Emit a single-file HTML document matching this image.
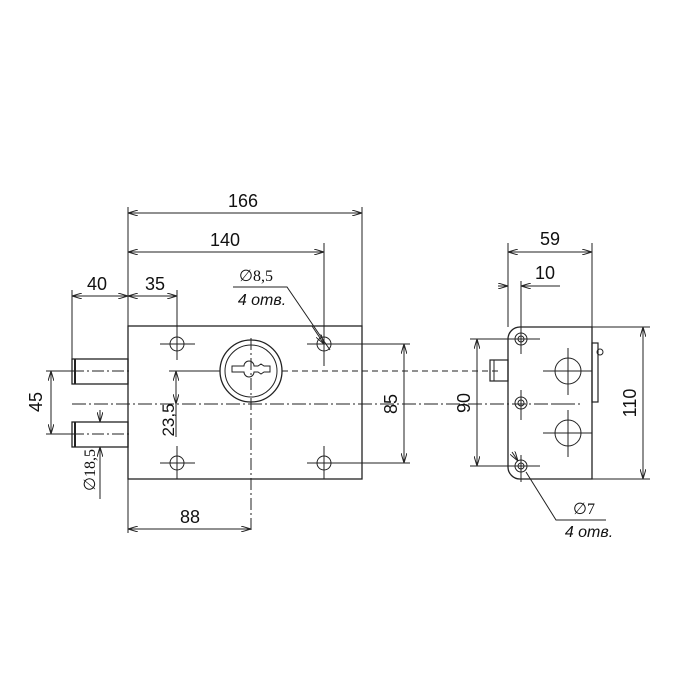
<!DOCTYPE html>
<html><head><meta charset="utf-8"><style>
html,body{margin:0;padding:0;background:#fff}
svg{display:block}
text{font-family:"Liberation Sans",sans-serif;fill:#111}
</style></head><body>
<svg width="700" height="700" viewBox="0 0 700 700" xmlns="http://www.w3.org/2000/svg">
<defs>
<marker id="a" viewBox="0 0 10 6" refX="10" refY="3" markerWidth="10" markerHeight="6" orient="auto-start-reverse" markerUnits="userSpaceOnUse">
<path d="M0,0 L10,3 L0,6" fill="none" stroke="#222" stroke-width="1"/>
</marker>
</defs>
<g stroke="#222" stroke-width="1" fill="none">
<rect x="128" y="326" width="234" height="153" stroke-width="1.3"/>
<rect x="72" y="359" width="56" height="25" stroke-width="1.3"/>
<rect x="72" y="422" width="56" height="25" stroke-width="1.3"/>
<line x1="75" y1="359" x2="75" y2="384" stroke-width="2"/>
<line x1="75" y1="422" x2="75" y2="447" stroke-width="2"/>
<line x1="72" y1="371" x2="130" y2="371" stroke-dasharray="12,3,2,3"/>
<line x1="72" y1="434" x2="130" y2="434" stroke-dasharray="12,3,2,3"/>
<line x1="72" y1="404" x2="580" y2="404" stroke-dasharray="14,3,2,3"/>
<line x1="169" y1="371" x2="220" y2="371"/>
<line x1="282" y1="371" x2="500" y2="371" stroke-dasharray="6,4"/>
<line x1="251" y1="338" x2="251" y2="533" stroke-dasharray="12,3,2,3"/>
<circle cx="251" cy="371" r="31" stroke-width="1.3"/>
<circle cx="251" cy="371" r="26"/>
<path d="M232,366 h12 a5,5 0 0 1 10,0 h4 l3,-2 l3,2 h6 v6 h-6 l-3,2 l-3,-2 h-4 a5,5 0 0 1 -10,0 h-12 z"/>
<g>
<circle cx="177" cy="344" r="7"/><line x1="160" y1="344" x2="195" y2="344"/><line x1="177" y1="327" x2="177" y2="360"/>
<circle cx="324" cy="344" r="7"/><line x1="307" y1="344" x2="410" y2="344"/><line x1="324" y1="243" x2="324" y2="366"/>
<circle cx="177" cy="463" r="7"/><line x1="160" y1="463" x2="195" y2="463"/><line x1="177" y1="446" x2="177" y2="479"/>
<circle cx="324" cy="463" r="7"/><line x1="307" y1="463" x2="410" y2="463"/><line x1="324" y1="446" x2="324" y2="479"/>
</g>
<line x1="128" y1="207" x2="128" y2="533"/>
<line x1="362" y1="207" x2="362" y2="326"/>
<line x1="72" y1="290" x2="72" y2="359"/>
<line x1="177" y1="290" x2="177" y2="327"/>
<line x1="46" y1="371" x2="72" y2="371"/>
<line x1="46" y1="434" x2="72" y2="434"/>
<line x1="128" y1="213" x2="362" y2="213" marker-start="url(#a)" marker-end="url(#a)"/>
<line x1="128" y1="252" x2="324" y2="252" marker-start="url(#a)" marker-end="url(#a)"/>
<line x1="72" y1="296" x2="128" y2="296" marker-start="url(#a)" marker-end="url(#a)"/>
<line x1="128" y1="296" x2="177" y2="296" marker-start="url(#a)" marker-end="url(#a)"/>
<line x1="128" y1="529" x2="251" y2="529" marker-start="url(#a)" marker-end="url(#a)"/>
<line x1="51" y1="371" x2="51" y2="434" marker-start="url(#a)" marker-end="url(#a)"/>
<line x1="176" y1="371" x2="176" y2="404" marker-start="url(#a)" marker-end="url(#a)"/>
<line x1="176" y1="404" x2="176" y2="437"/>
<line x1="404" y1="344" x2="404" y2="463" marker-start="url(#a)" marker-end="url(#a)"/>
<line x1="100" y1="410" x2="100" y2="422" marker-end="url(#a)"/>
<line x1="100" y1="499" x2="100" y2="447" marker-end="url(#a)"/>
<polyline points="233,287 287,287 330,350"/>
<line x1="312" y1="326" x2="324" y2="344" marker-end="url(#a)"/>
<path d="M520,327 H592 V479 H520 A12,12 0 0 1 508,467 V339 A12,12 0 0 1 520,327 Z" stroke-width="1.3"/>
<rect x="490" y="360" width="18" height="21" stroke-width="1.2"/>
<line x1="494" y1="360" x2="494" y2="381"/>
<rect x="592" y="343" width="6" height="59" stroke-width="1.2"/>
<circle cx="600" cy="352" r="3"/>
<circle cx="521" cy="339" r="6"/><circle cx="521" cy="339" r="3"/>
<circle cx="521" cy="403" r="6"/><circle cx="521" cy="403" r="3"/>
<circle cx="521" cy="466" r="6"/><circle cx="521" cy="466" r="3"/>
<line x1="470" y1="339" x2="540" y2="339"/>
<line x1="470" y1="466" x2="540" y2="466"/>
<line x1="521" y1="281" x2="521" y2="354"/>
<line x1="521" y1="390" x2="521" y2="420"/>
<line x1="521" y1="455" x2="521" y2="482"/>
<line x1="535" y1="404" x2="580" y2="404" stroke-dasharray="8,3,2,3"/>
<circle cx="568" cy="371" r="13"/><line x1="543" y1="371" x2="592" y2="371"/><line x1="568" y1="348" x2="568" y2="395"/>
<circle cx="568" cy="433" r="13"/><line x1="543" y1="433" x2="592" y2="433"/><line x1="568" y1="410" x2="568" y2="457"/>
<line x1="508" y1="243" x2="508" y2="327"/>
<line x1="592" y1="243" x2="592" y2="327"/>
<line x1="592" y1="327" x2="650" y2="327"/>
<line x1="592" y1="479" x2="650" y2="479"/>
<line x1="508" y1="252" x2="592" y2="252" marker-start="url(#a)" marker-end="url(#a)"/>
<line x1="498" y1="286" x2="508" y2="286" marker-end="url(#a)"/>
<line x1="560" y1="286" x2="521" y2="286" marker-end="url(#a)"/>
<line x1="477" y1="339" x2="477" y2="466" marker-start="url(#a)" marker-end="url(#a)"/>
<line x1="643" y1="327" x2="643" y2="479" marker-start="url(#a)" marker-end="url(#a)"/>
<polyline points="606,520 556,520 526,472"/>
<line x1="512" y1="452" x2="518" y2="461" marker-end="url(#a)"/>
</g>
<g font-size="18">
<text x="243" y="207" text-anchor="middle">166</text>
<text x="225" y="246" text-anchor="middle">140</text>
<text x="97" y="290" text-anchor="middle">40</text>
<text x="155" y="290" text-anchor="middle">35</text>
<text x="190" y="523" text-anchor="middle">88</text>
<text x="550" y="245" text-anchor="middle">59</text>
<text x="545" y="279" text-anchor="middle">10</text>
<text transform="translate(42,402) rotate(-90)" text-anchor="middle">45</text>
<text transform="translate(397,404) rotate(-90)" text-anchor="middle">85</text>
<text transform="translate(470,403) rotate(-90)" text-anchor="middle">90</text>
<text transform="translate(636,403) rotate(-90)" text-anchor="middle">110</text>
<text transform="translate(174,420) rotate(-90)" text-anchor="middle" font-size="17">23,5</text>
</g>
<g font-size="16">
<text x="256" y="281" text-anchor="middle" style="font-family:'Liberation Serif',serif">∅8,5</text>
<text transform="translate(95,470) rotate(-90)" text-anchor="middle" style="font-family:'Liberation Serif',serif">∅18,5</text>
<text x="584" y="514" text-anchor="middle" style="font-family:'Liberation Serif',serif">∅7</text>
</g>
<text x="262" y="305" text-anchor="middle" font-size="16" font-style="italic">4 отв.</text>
<text x="589" y="537" text-anchor="middle" font-size="16" font-style="italic">4 отв.</text>
</svg>
</body></html>
